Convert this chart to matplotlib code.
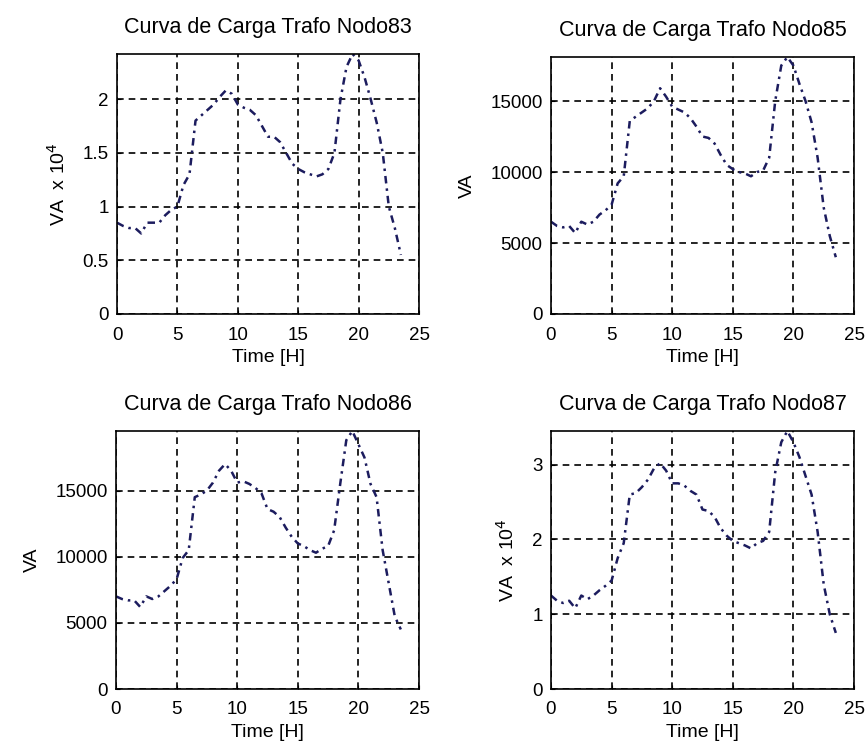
import matplotlib
matplotlib.use("Agg")
import matplotlib.pyplot as plt
import numpy as np

plt.rcParams['font.family'] = ['Liberation Sans', 'DejaVu Sans']

hours = np.arange(0, 24, 0.5)

nodo83 = [0.85, 0.82, 0.80, 0.80, 0.75, 0.85, 0.85, 0.85, 0.92, 0.97, 1.00, 1.20,
          1.30, 1.80, 1.85, 1.90, 1.95, 2.02, 2.08, 2.05, 1.95, 1.92, 1.90, 1.85,
          1.75, 1.65, 1.65, 1.60, 1.50, 1.40, 1.35, 1.32, 1.30, 1.28, 1.30, 1.35,
          1.50, 2.00, 2.30, 2.42, 2.36, 2.20, 2.00, 1.78, 1.50, 1.00, 0.80, 0.55]
nodo83 = [v * 1e4 for v in nodo83]

nodo85 = [6500, 6200, 6100, 6200, 5700, 6500, 6300, 6500, 7000, 7300, 7700, 9200,
          9700, 13600, 13900, 14200, 14500, 15000, 15900, 15300, 14600, 14400, 14200, 13800,
          13200, 12500, 12400, 12000, 11200, 10500, 10200, 10000, 9900, 9700, 10000, 10100,
          11000, 15000, 17500, 18100, 17500, 16200, 15000, 13500, 11000, 7500, 5500, 4000]

nodo86 = [7000, 6800, 6700, 6700, 6200, 7000, 6800, 7000, 7400, 7800, 8300, 9900,
          10500, 14500, 14700, 15000, 15600, 16500, 17000, 16500, 15600, 15700, 15500, 15200,
          14800, 13600, 13400, 13000, 12200, 11500, 11000, 10800, 10500, 10300, 10600, 10800,
          12000, 15500, 18800, 19500, 18500, 17500, 15500, 14500, 10500, 8000, 5500, 4500]

nodo87 = [1.25, 1.18, 1.15, 1.18, 1.08, 1.25, 1.20, 1.25, 1.32, 1.38, 1.45, 1.75,
          1.95, 2.60, 2.62, 2.70, 2.80, 2.95, 3.02, 2.92, 2.75, 2.75, 2.72, 2.65,
          2.60, 2.40, 2.38, 2.30, 2.15, 2.05, 1.98, 1.95, 1.92, 1.88, 1.95, 1.98,
          2.10, 2.90, 3.30, 3.45, 3.30, 3.10, 2.85, 2.60, 2.10, 1.40, 1.00, 0.75]
nodo87 = [v * 1e4 for v in nodo87]

titles = ['Curva de Carga Trafo Nodo83', 'Curva de Carga Trafo Nodo85',
          'Curva de Carga Trafo Nodo86', 'Curva de Carga Trafo Nodo87']
series = [nodo83, nodo85, nodo86, nodo87]
scaled = [True, False, False, True]
yticks_list = [[0, 5000, 10000, 15000, 20000],
               [0, 5000, 10000, 15000],
               [0, 5000, 10000, 15000],
               [0, 10000, 20000, 30000]]
xticks = [0, 5, 10, 15, 20, 25]

W, H = 867, 754
fig = plt.figure(figsize=(W / 100, H / 100), dpi=100)
boxes = [(117, 54, 419, 314), (551, 57, 854, 314),
         (116, 431, 419, 689), (551, 431, 854, 689)]

line_color = '#1c1c5e'
for i, (b, y, t, sc, yt) in enumerate(zip(boxes, series, titles, scaled, yticks_list)):
    l, tp, r, bt = b
    ax = fig.add_axes([l / W, 1 - bt / H, (r - l) / W, (bt - tp) / H])
    ax.plot(hours, y, color=line_color, linestyle=(0, (3, 2, 1, 2)), linewidth=1.8)
    ax.set_xlim(0, 25)
    ax.set_ylim(0, max(y))
    ax.set_xticks(xticks)
    ax.set_xticklabels([str(v) for v in xticks])
    ax.set_yticks(yt)
    if sc:
        ax.set_yticklabels([('%g' % (v / 1e4)) for v in yt])
        ax.set_ylabel(r'VA  x 10$^{4}$', fontsize=14, labelpad=10)
    else:
        ax.set_yticklabels([str(v) for v in yt])
        ax.set_ylabel('VA', fontsize=14, labelpad=10)
    ax.set_xlabel('Time [H]', fontsize=14, labelpad=4)
    ax.set_title(t, fontsize=15.5, pad=15)
    ax.grid(True, color='black', linestyle=(0, (4, 3)), linewidth=1.2)
    ax.tick_params(direction='in', length=3, labelsize=13.5)
    ax.tick_params(axis='x', pad=9)
    ax.tick_params(axis='y', pad=6)
    for s in ax.spines.values():
        s.set_linewidth(1.2)

fig.savefig('out.png', dpi=100)
